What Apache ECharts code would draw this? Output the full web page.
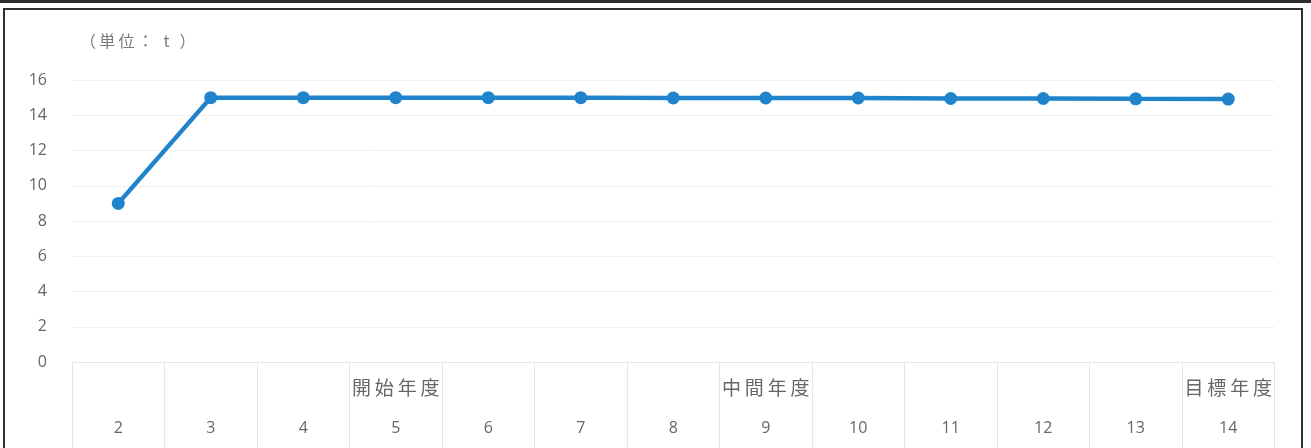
<!DOCTYPE html>
<html>
<head>
<meta charset="utf-8">
<script src="https://cdn.jsdelivr.net/npm/echarts@6/dist/echarts.min.js"></script>
<style>
  html, body { margin: 0; padding: 0; background: #fff; }
  #wrap { position: relative; width: 1311px; height: 448px; overflow: hidden; background: #fff; }
  #topband { position: absolute; left: 0; top: 0; width: 1311px; height: 3px; background: #2b2b2b; }
  #frame { position: absolute; left: 3px; top: 8px; width: 1300px; height: 460px; border: 2px solid #2e2e2e; box-sizing: border-box; }
  #chart { position: absolute; left: 0; top: 0; width: 1311px; height: 448px; }
</style>
</head>
<body>
<div id="wrap">
  <div id="topband"></div>
  <div id="frame"></div>
  <div id="chart"></div>
</div>
<script>
// Fiscal years (Reiwa) and their milestone notes
const years = ['2', '3', '4', '5', '6', '7', '8', '9', '10', '11', '12', '13', '14'];
const notes = ['', '', '', '開始年度', '', '', '', '中間年度', '', '', '', '', '目標年度'];
// Annual amount (t)
const amounts = [9.0, 15.0, 15.0, 15.0, 15.0, 15.0, 14.98, 14.98, 14.98, 14.95, 14.95, 14.93, 14.92];
const yTicks = [0, 2, 4, 6, 8, 10, 12, 14, 16];
const unitText = '（単位： t ）';

const fontFam = "'Open Sans', 'Noto Sans CJK JP', sans-serif";
const cjkFam = "'Noto Sans CJK JP', sans-serif";
// spread CJK glyphs slightly, like a spaced table caption
const spaced = s => s.split('').join('\u2009');

const chart = echarts.init(document.getElementById('chart'), null, { renderer: 'canvas' });

chart.setOption({
  animation: false,
  backgroundColor: 'transparent',
  grid: { left: 72, right: 36.5, top: 80, bottom: 86, containLabel: false },
  graphic: [{
    type: 'text',
    left: 80,
    top: 33,
    style: { text: spaced(unitText), fill: '#7a7a7a', font: "16px 'Noto Sans CJK JP', sans-serif" }
  }],
  xAxis: {
    type: 'category',
    data: years,
    boundaryGap: true,
    axisLine: { show: true, lineStyle: { color: '#e8e8e8', width: 1 } },
    axisTick: { show: true, interval: 0, length: 86, lineStyle: { color: '#e6e6e6', width: 1 } },
    axisLabel: {
      interval: 0,
      margin: 6,
      formatter: (v, i) => '{n|' + (notes[i] ? spaced(notes[i]) : ' ') + '}\n{y|' + v + '}',
      rich: {
        n: { fontSize: 19, lineHeight: 40, color: '#666', fontFamily: cjkFam },
        y: { fontSize: 16, lineHeight: 40, color: '#666', fontFamily: fontFam }
      }
    }
  },
  yAxis: {
    type: 'value',
    min: yTicks[0],
    max: yTicks[yTicks.length - 1],
    interval: 2,
    axisLine: { show: false },
    axisTick: { show: false },
    axisLabel: { margin: 25, fontSize: 16, color: '#666', fontFamily: fontFam },
    splitLine: { lineStyle: { color: '#efefef', width: 1 } }
  },
  series: [{
    type: 'line',
    data: amounts,
    symbol: 'circle',
    symbolSize: 13,
    lineStyle: { color: '#1f84cc', width: 4.5 },
    itemStyle: { color: '#1f84cc' }
  }]
});
</script>
</body>
</html>
